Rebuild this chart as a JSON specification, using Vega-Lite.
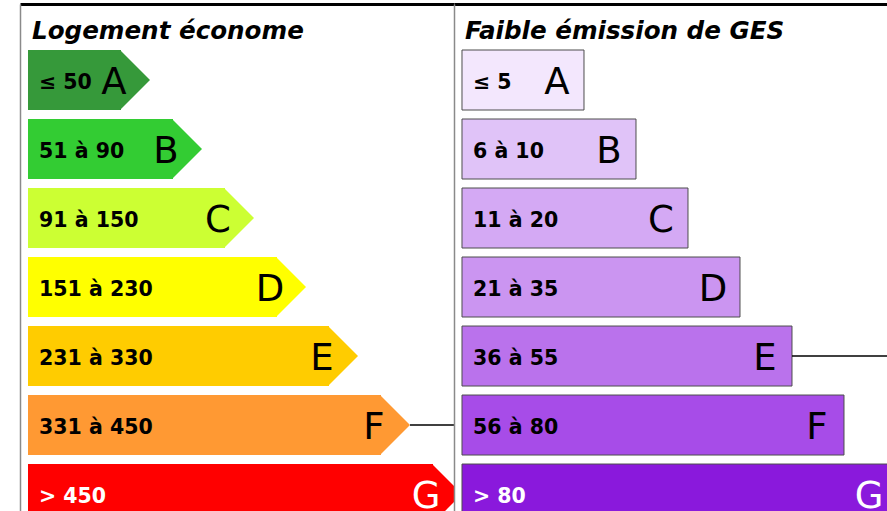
{
  "$schema": "https://vega.github.io/schema/vega-lite/v6.json",
  "background": "white",
  "padding": {"left": 20, "top": 4, "right": 0, "bottom": 0},
  "spacing": 0,
  "resolve": {"scale": {"color": "independent"}},
  "config": {"view": {"stroke": null}},
  "datasets": {
    "energie": [
      {"classe": "A", "rang": 1, "plage": "≤ 50", "actuel": false},
      {"classe": "B", "rang": 2, "plage": "51 à 90", "actuel": false},
      {"classe": "C", "rang": 3, "plage": "91 à 150", "actuel": false},
      {"classe": "D", "rang": 4, "plage": "151 à 230", "actuel": false},
      {"classe": "E", "rang": 5, "plage": "231 à 330", "actuel": false},
      {"classe": "F", "rang": 6, "plage": "331 à 450", "actuel": true},
      {"classe": "G", "rang": 7, "plage": "> 450", "actuel": false}
    ],
    "ges": [
      {"classe": "A", "rang": 1, "plage": "≤ 5", "actuel": false},
      {"classe": "B", "rang": 2, "plage": "6 à 10", "actuel": false},
      {"classe": "C", "rang": 3, "plage": "11 à 20", "actuel": false},
      {"classe": "D", "rang": 4, "plage": "21 à 35", "actuel": false},
      {"classe": "E", "rang": 5, "plage": "36 à 55", "actuel": true},
      {"classe": "F", "rang": 6, "plage": "56 à 80", "actuel": false},
      {"classe": "G", "rang": 7, "plage": "> 80", "actuel": false}
    ]
  },
  "hconcat": [
    {
      "width": 434,
      "height": 507,
      "data": {"name": "energie"},
      "layer": [
        {
          "mark": {"type": "bar", "orient": "horizontal", "size": 60, "xOffset": -29, "clip": true},
          "encoding": {
            "y": {
              "field": "rang", "type": "quantitative",
              "scale": {"domain": [-0.1014, 7.246], "reverse": true, "nice": false, "zero": false, "padding": 0},
              "axis": {"orient": "left", "domain": true, "domainColor": "#8a8a8a", "domainWidth": 1.5, "ticks": false, "labels": false, "grid": false, "title": null}
            },
            "x": {
              "field": "rang", "type": "quantitative",
              "scale": {"domain": [-1.5, 6.846], "nice": false, "zero": false, "padding": 0},
              "axis": {"orient": "top", "domain": true, "domainColor": "black", "domainWidth": 3, "ticks": false, "labels": false, "grid": false, "title": null}
            },
            "x2": {"datum": -1.3462},
            "color": {
              "field": "classe", "type": "nominal", "legend": null,
              "scale": {"domain": ["A", "B", "C", "D", "E", "F", "G"], "range": ["#36993a", "#33cc33", "#ccff33", "#ffff00", "#ffcc00", "#ff9933", "#ff0000"]}
            }
          }
        },
        {
          "mark": {"type": "point", "shape": "M-1,-1L0,0L-1,1Z", "size": 3600, "filled": true, "opacity": 1, "strokeWidth": 0, "clip": true},
          "encoding": {
            "y": {"field": "rang", "type": "quantitative"},
            "x": {"field": "rang", "type": "quantitative"},
            "color": {"field": "classe", "type": "nominal", "legend": null}
          }
        },
        {
          "transform": [{"filter": "datum.actuel"}],
          "mark": {"type": "rule", "color": "black", "strokeWidth": 1.5, "clip": true},
          "encoding": {
            "y": {"field": "rang", "type": "quantitative"},
            "x": {"field": "rang", "type": "quantitative"},
            "x2": {"datum": 9}
          }
        },
        {
          "mark": {"type": "text", "align": "left", "baseline": "middle", "dx": 11, "dy": 3, "font": "DejaVu Sans", "fontSize": 20.5, "fontWeight": "bold"},
          "encoding": {
            "y": {"field": "rang", "type": "quantitative"},
            "x": {"datum": -1.3462, "type": "quantitative"},
            "text": {"field": "plage"},
            "color": {"condition": {"test": "datum.classe === 'G'", "value": "white"}, "value": "black"}
          }
        },
        {
          "mark": {"type": "text", "align": "center", "baseline": "middle", "dx": -36, "dy": 3, "font": "DejaVu Sans", "fontSize": 37, "fontWeight": "normal"},
          "encoding": {
            "y": {"field": "rang", "type": "quantitative"},
            "x": {"field": "rang", "type": "quantitative"},
            "text": {"field": "classe"},
            "color": {"condition": {"test": "datum.classe === 'G'", "value": "white"}, "value": "black"}
          }
        },
        {
          "data": {"values": [{"titre": "Logement économe"}]},
          "mark": {"type": "text", "align": "left", "baseline": "alphabetic", "font": "DejaVu Sans", "fontSize": 24.6, "fontWeight": "bold", "fontStyle": "italic", "color": "black"},
          "encoding": {
            "x": {"datum": -1.27, "type": "quantitative"},
            "y": {"datum": 0.406, "type": "quantitative"},
            "text": {"field": "titre"}
          }
        }
      ]
    },
    {
      "width": 433,
      "height": 507,
      "data": {"name": "ges"},
      "layer": [
        {
          "mark": {"type": "bar", "orient": "horizontal", "size": 60, "stroke": "#4d4d4d", "strokeWidth": 1, "clip": true},
          "encoding": {
            "y": {
              "field": "rang", "type": "quantitative",
              "scale": {"domain": [-0.1014, 7.246], "reverse": true, "nice": false, "zero": false, "padding": 0},
              "axis": {"orient": "left", "domain": true, "domainColor": "#8a8a8a", "domainWidth": 1.5, "ticks": false, "labels": false, "grid": false, "title": null}
            },
            "x": {
              "field": "rang", "type": "quantitative",
              "scale": {"domain": [-1.5, 6.827], "nice": false, "zero": false, "padding": 0},
              "axis": {"orient": "top", "domain": true, "domainColor": "black", "domainWidth": 3, "ticks": false, "labels": false, "grid": false, "title": null}
            },
            "x2": {"datum": -1.3462},
            "color": {
              "field": "classe", "type": "nominal", "legend": null,
              "scale": {"domain": ["A", "B", "C", "D", "E", "F", "G"], "range": ["#f3e7fd", "#e0c3f8", "#d4a9f4", "#cb95f1", "#ba72ec", "#a74ce8", "#8a19dc"]}
            }
          }
        },
        {
          "transform": [{"filter": "datum.actuel"}],
          "mark": {"type": "rule", "color": "black", "strokeWidth": 1.5, "clip": true},
          "encoding": {
            "y": {"field": "rang", "type": "quantitative"},
            "x": {"field": "rang", "type": "quantitative"},
            "x2": {"datum": 9}
          }
        },
        {
          "mark": {"type": "text", "align": "left", "baseline": "middle", "dx": 11, "dy": 3, "font": "DejaVu Sans", "fontSize": 20.5, "fontWeight": "bold"},
          "encoding": {
            "y": {"field": "rang", "type": "quantitative"},
            "x": {"datum": -1.3462, "type": "quantitative"},
            "text": {"field": "plage"},
            "color": {"condition": {"test": "datum.classe === 'G'", "value": "white"}, "value": "black"}
          }
        },
        {
          "mark": {"type": "text", "align": "center", "baseline": "middle", "dx": -27, "dy": 3, "font": "DejaVu Sans", "fontSize": 37, "fontWeight": "normal"},
          "encoding": {
            "y": {"field": "rang", "type": "quantitative"},
            "x": {"field": "rang", "type": "quantitative"},
            "text": {"field": "classe"},
            "color": {"condition": {"test": "datum.classe === 'G'", "value": "white"}, "value": "black"}
          }
        },
        {
          "data": {"values": [{"titre": "Faible émission de GES"}]},
          "mark": {"type": "text", "align": "left", "baseline": "alphabetic", "font": "DejaVu Sans", "fontSize": 24.6, "fontWeight": "bold", "fontStyle": "italic", "letterSpacing": 0.35, "color": "black"},
          "encoding": {
            "x": {"datum": -1.29, "type": "quantitative"},
            "y": {"datum": 0.406, "type": "quantitative"},
            "text": {"field": "titre"}
          }
        }
      ]
    }
  ]
}
